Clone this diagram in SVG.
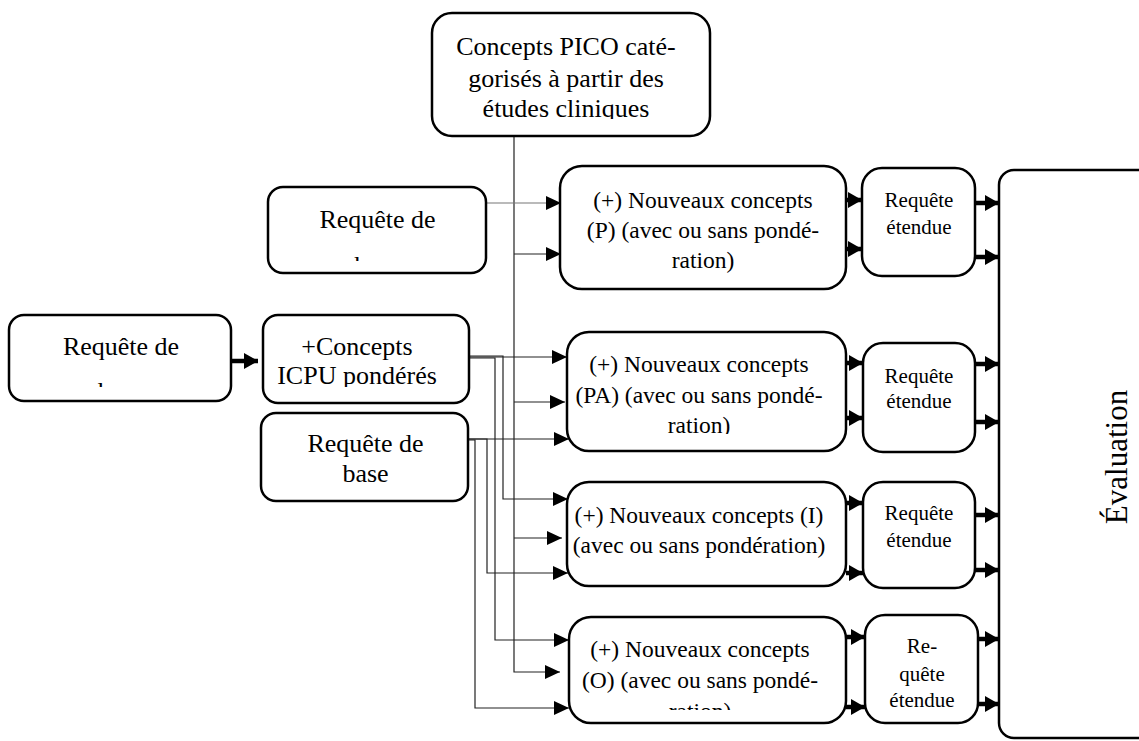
<svg xmlns="http://www.w3.org/2000/svg" width="1139" height="741" viewBox="0 0 1139 741">
  <style>
    .box { fill: #fff; stroke: #000; stroke-width: 2.5; }
    .t26 { font-family: "Liberation Serif", "Times New Roman", serif; font-size: 26px; fill: #000; text-anchor: middle; }
    .t23 { font-family: "Liberation Serif", "Times New Roman", serif; font-size: 23.5px; fill: #000; text-anchor: middle; }
    .t21 { font-family: "Liberation Serif", "Times New Roman", serif; font-size: 21px; fill: #000; text-anchor: middle; }
    .t31 { font-family: "Liberation Serif", "Times New Roman", serif; font-size: 31px; fill: #000; text-anchor: middle; }
    .thin { fill: none; stroke: #222; stroke-width: 1.2; marker-end: url(#headThin); }
    .grey { fill: none; stroke: #777; stroke-width: 1.2; marker-end: url(#headThin); }
    .bold { fill: none; stroke: #000; stroke-width: 4.5; marker-end: url(#headBold); }
  </style>
  <defs>
    <marker id="headThin" markerUnits="userSpaceOnUse" markerWidth="15" markerHeight="14" refX="15" refY="7" orient="auto">
      <path d="M0,0 L15,7 L0,14 z" fill="#000"/>
    </marker>
    <marker id="headBold" markerUnits="userSpaceOnUse" markerWidth="14" markerHeight="16" refX="14" refY="8" orient="auto">
      <path d="M0,0 L14,8 L0,16 z" fill="#000"/>
    </marker>
    <!-- text areas that cut off the last line of some labels -->
    <clipPath id="cutPico"><rect x="430" y="0" width="290" height="119"/></clipPath>
    <clipPath id="cutTopQuery"><rect x="260" y="180" width="230" height="81"/></clipPath>
    <clipPath id="cutLeftQuery"><rect x="0" y="300" width="240" height="87"/></clipPath>
    <clipPath id="cutIcpu"><rect x="260" y="300" width="220" height="87"/></clipPath>
    <clipPath id="cutPA"><rect x="560" y="320" width="290" height="114"/></clipPath>
    <clipPath id="cutO"><rect x="560" y="600" width="290" height="110"/></clipPath>
  </defs>

  <!-- connectors -->
  <g id="connectors">
    <!-- PICO concepts feed -->
    <path class="thin" d="M514,136 V672 H560"/>
    <path class="thin" d="M514,254 H561"/>
    <path class="thin" d="M514,402 H565"/>
    <path class="thin" d="M514,538 H562"/>
    <!-- top query -->
    <path class="grey" d="M486,203 H561"/>
    <!-- weighted ICPU concepts -->
    <path class="thin" d="M469,357 H567"/>
    <path class="thin" d="M469,356 H503 V499 H568"/>
    <path class="thin" d="M469,358 H495 V640 H569"/>
    <!-- base query -->
    <path class="thin" d="M468,439 H569"/>
    <path class="thin" d="M468,439 H487 V573 H568"/>
    <path class="thin" d="M468,440 H475 V708 H569"/>
    <!-- left query to ICPU -->
    <path class="bold" d="M231,361 H258"/>
    <!-- concept boxes to expanded queries -->
    <path class="bold" d="M846,200 H862"/>
    <path class="bold" d="M846,249 H862"/>
    <path class="bold" d="M846,363 H863"/>
    <path class="bold" d="M846,418 H863"/>
    <path class="bold" d="M846,503 H863"/>
    <path class="bold" d="M846,573 H863"/>
    <path class="bold" d="M846,637 H865"/>
    <path class="bold" d="M846,707 H865"/>
    <!-- expanded queries to evaluation -->
    <path class="bold" d="M975,203 H999"/>
    <path class="bold" d="M975,257 H999"/>
    <path class="bold" d="M975,364 H999"/>
    <path class="bold" d="M975,422 H999"/>
    <path class="bold" d="M975,515 H999"/>
    <path class="bold" d="M975,570 H999"/>
    <path class="bold" d="M978,639 H999"/>
    <path class="bold" d="M978,704 H999"/>
  </g>

  <g id="pico">
    <rect class="box" x="432" y="13" width="278" height="123" rx="20"/>
    <g clip-path="url(#cutPico)">
      <text class="t26" x="566" y="55">Concepts PICO caté-</text>
      <text class="t26" x="566" y="87">gorisés à partir des</text>
      <text class="t26" x="566" y="117">études cliniques</text>
    </g>
  </g>

  <g id="query-top">
    <rect class="box" x="268" y="187" width="218" height="86" rx="15"/>
    <g clip-path="url(#cutTopQuery)">
      <text class="t26" x="377.5" y="228">Requête de</text>
      <text class="t26" x="377.5" y="274">base</text>
    </g>
  </g>

  <g id="query-left">
    <rect class="box" x="9" y="315" width="222" height="86" rx="15"/>
    <g clip-path="url(#cutLeftQuery)">
      <text class="t26" x="121" y="355">Requête de</text>
      <text class="t26" x="121" y="400">base</text>
    </g>
  </g>

  <g id="icpu">
    <rect class="box" x="263" y="315" width="206" height="88" rx="15"/>
    <g clip-path="url(#cutIcpu)">
      <text class="t26" x="357" y="355">+Concepts</text>
      <text class="t26" x="357" y="384">ICPU pondérés</text>
    </g>
  </g>

  <g id="query-base">
    <rect class="box" x="261" y="413" width="207" height="88" rx="15"/>
    <text class="t26" x="365.5" y="452">Requête de</text>
    <text class="t26" x="365.5" y="482">base</text>
  </g>

  <g id="concepts-p">
    <rect class="box" x="560" y="166" width="286" height="123" rx="22"/>
    <text class="t23" x="703" y="208">(+) Nouveaux concepts</text>
    <text class="t23" x="703" y="238">(P) (avec ou sans pondé-</text>
    <text class="t23" x="703" y="268">ration)</text>
  </g>

  <g id="concepts-pa">
    <rect class="box" x="567" y="332" width="279" height="119" rx="22"/>
    <g clip-path="url(#cutPA)">
      <text class="t23" x="699" y="372">(+) Nouveaux concepts</text>
      <text class="t23" x="699" y="403">(PA) (avec ou sans pondé-</text>
      <text class="t23" x="699" y="433">ration)</text>
    </g>
  </g>

  <g id="concepts-i">
    <rect class="box" x="567" y="482" width="279" height="104" rx="22"/>
    <text class="t23" x="699" y="523">(+) Nouveaux concepts (I)</text>
    <text class="t23" x="699" y="553">(avec ou sans pondération)</text>
  </g>

  <g id="concepts-o">
    <rect class="box" x="569" y="617" width="277" height="106" rx="22"/>
    <g clip-path="url(#cutO)">
      <text class="t23" x="700" y="657">(+) Nouveaux concepts</text>
      <text class="t23" x="700" y="688">(O) (avec ou sans pondé-</text>
      <text class="t23" x="700" y="719">ration)</text>
    </g>
  </g>

  <g id="expanded-p">
    <rect class="box" x="862" y="168" width="113" height="108" rx="20"/>
    <text class="t21" x="919" y="207">Requête</text>
    <text class="t21" x="919" y="234">étendue</text>
  </g>

  <g id="expanded-pa">
    <rect class="box" x="863" y="343" width="112" height="109" rx="20"/>
    <text class="t21" x="919" y="383">Requête</text>
    <text class="t21" x="919" y="408">étendue</text>
  </g>

  <g id="expanded-i">
    <rect class="box" x="863" y="482" width="112" height="106" rx="20"/>
    <text class="t21" x="919" y="520">Requête</text>
    <text class="t21" x="919" y="547">étendue</text>
  </g>

  <g id="expanded-o">
    <rect class="box" x="865" y="615" width="113" height="108" rx="20"/>
    <text class="t21" x="922" y="653">Re-</text>
    <text class="t21" x="922" y="681">quête</text>
    <text class="t21" x="922" y="707">étendue</text>
  </g>

  <g id="evaluation">
    <rect class="box" x="999" y="170" width="190" height="568" rx="15"/>
    <text class="t31" transform="translate(1127,457) rotate(-90)">Évaluation</text>
  </g>
</svg>
